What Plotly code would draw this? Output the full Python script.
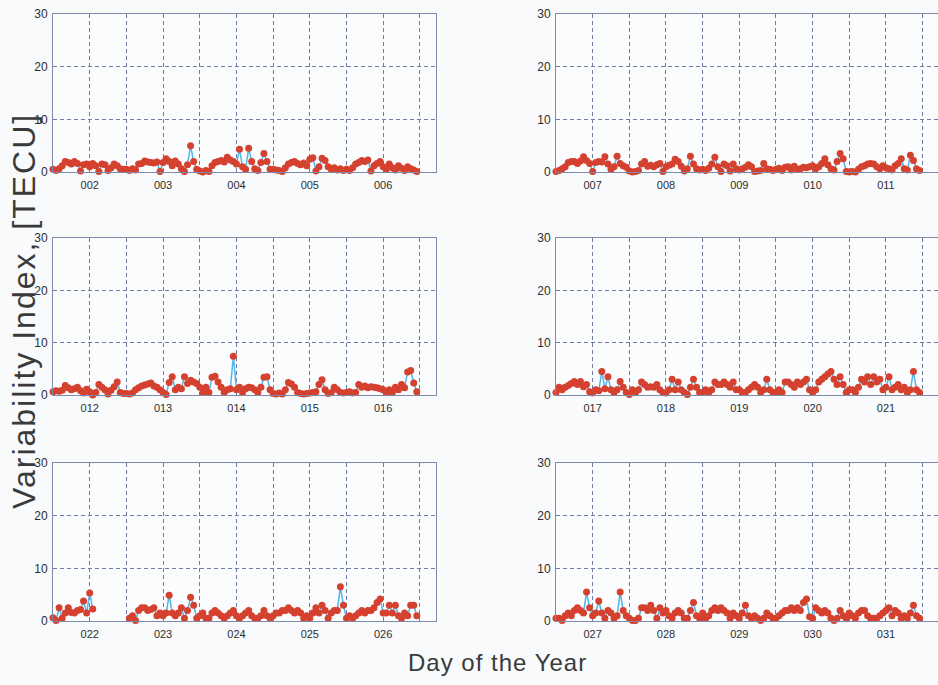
import plotly.graph_objects as go

# ---------------- data (hourly Variability Index, TECU) ----------------
days_p1 = ["002", "003", "004", "005", "006"]
days_p2 = ["007", "008", "009", "010", "011"]
days_p3 = ["012", "013", "014", "015", "016"]
days_p4 = ["017", "018", "019", "020", "021"]
days_p5 = ["022", "023", "024", "025", "026"]
days_p6 = ["027", "028", "029", "030", "031"]

vi_p1 = [0.5,0.3,0.6,1.2,2.0,1.8,1.5,2.0,1.6,0.2,1.4,1.5,1.0,1.6,1.2,0.1,1.5,1.4,0.3,0.8,1.5,1.2,0.6,0.5,
         0.5,0.3,0.6,0.4,1.5,1.6,2.1,1.9,1.8,1.7,1.9,0.1,1.8,2.5,2.0,1.2,2.1,1.5,0.6,0.1,1.4,5.0,2.0,0.5,
         0.2,0.0,0.3,0.1,1.2,1.8,2.0,2.2,1.9,2.8,2.3,2.0,1.5,4.3,1.0,0.5,4.5,2.0,0.6,0.3,1.8,3.5,2.0,0.5,
         0.5,0.4,0.3,0.1,0.8,1.5,1.8,2.0,1.6,1.4,1.7,1.2,2.4,2.7,0.2,1.0,2.6,2.2,1.0,0.5,0.8,0.4,0.6,0.3,
         0.5,0.3,0.8,1.5,1.8,2.2,2.0,2.3,0.2,1.2,1.6,2.0,1.0,0.5,1.5,0.8,0.4,1.2,0.7,0.3,1.0,0.6,0.4,0.1]

vi_p2 = [0.1,0.3,0.6,1.0,1.8,2.0,2.0,1.6,2.1,2.9,2.2,1.6,0.1,1.8,2.0,1.9,2.9,1.5,0.5,1.0,3.0,1.6,1.2,0.9,
         0.2,0.0,0.1,0.3,1.5,2.0,1.1,1.3,1.0,1.4,1.6,0.1,1.0,1.3,1.5,2.4,2.0,1.1,0.2,0.6,3.0,1.5,0.6,0.4,
         0.5,0.3,0.7,1.5,2.8,1.0,0.1,1.5,1.2,0.2,1.5,0.6,0.4,0.6,0.9,1.4,1.0,0.1,0.2,0.3,1.6,0.6,0.5,0.3,
         0.5,0.7,0.3,0.9,1.0,0.4,1.1,0.5,0.6,0.9,0.8,1.0,1.2,0.6,1.0,1.6,2.5,1.4,0.6,0.4,2.0,3.5,2.5,0.1,
         0.0,0.1,0.0,0.5,1.0,1.2,1.5,1.6,1.5,1.0,0.6,1.2,0.8,0.6,0.4,1.2,1.6,2.5,0.6,0.4,3.2,2.2,0.6,0.3]

vi_p3 = [0.6,0.8,0.7,0.9,1.8,1.4,1.0,1.2,1.5,0.8,0.4,1.1,0.6,0.0,0.5,2.0,1.5,1.0,0.2,0.9,1.6,2.5,0.5,0.3,
         0.3,0.2,0.4,1.0,1.4,1.7,1.9,2.1,2.3,1.7,1.5,1.0,0.5,0.1,2.4,3.5,1.0,1.5,1.2,3.5,2.2,2.8,2.5,2.2,
         1.5,0.5,1.5,0.5,3.4,3.6,2.5,1.5,0.5,1.0,1.2,7.4,1.0,1.5,0.5,1.2,1.5,1.4,1.0,0.5,1.5,3.4,3.5,1.0,
         0.3,0.2,0.4,0.2,1.0,2.4,2.1,1.5,0.5,0.3,0.2,0.3,0.4,0.5,0.6,2.0,2.9,1.0,0.3,0.5,1.5,1.0,0.5,0.4,
         0.5,0.6,0.4,0.5,2.0,1.5,1.7,1.4,1.6,1.5,1.4,1.2,1.0,0.5,1.0,0.5,1.5,1.0,2.0,1.4,4.4,4.7,2.3,0.6]

vi_p4 = [0.5,1.5,1.0,1.5,1.8,2.2,2.6,2.0,2.6,1.6,2.0,0.6,0.4,1.0,0.8,4.5,1.2,3.5,1.0,0.5,1.0,2.6,1.5,0.5,
         0.1,1.0,0.5,1.0,2.5,2.0,1.5,1.6,1.5,2.0,1.0,0.5,0.4,1.0,3.0,1.0,2.5,1.0,0.5,0.1,1.5,3.0,1.5,0.5,
         0.5,1.0,0.5,1.0,2.5,2.0,2.0,2.5,2.0,1.5,2.5,1.0,1.0,0.5,0.5,1.0,1.5,2.0,1.5,0.5,1.0,3.0,1.0,0.5,
         0.5,1.0,0.5,2.5,2.5,2.0,1.5,2.5,2.0,2.5,3.0,1.0,0.5,1.0,2.5,3.0,3.5,4.0,4.5,3.0,2.0,3.5,2.0,0.5,
         1.0,1.0,0.5,1.5,3.0,2.5,3.5,2.0,3.5,2.5,3.0,1.0,1.5,3.5,1.0,1.5,2.0,1.0,1.5,0.5,1.0,4.5,1.0,0.5]

vi_p5 = [0.6,0.1,2.5,0.5,1.5,2.5,1.6,1.5,2.0,2.2,3.8,1.5,5.3,2.3,None,None,None,None,None,None,None,None,None,None,
         None,0.5,1.0,0.1,2.0,2.5,2.5,2.0,2.2,2.5,1.0,1.5,1.0,1.5,4.9,1.5,1.0,1.5,2.5,0.5,2.0,4.5,3.0,0.5,
         1.0,1.5,0.5,0.5,1.5,2.0,1.5,1.0,0.5,1.0,1.5,2.0,1.0,0.5,1.0,1.5,2.0,1.0,0.5,0.5,1.0,2.0,1.0,0.5,
         1.0,1.5,1.5,2.0,2.0,2.5,2.0,1.5,2.0,1.5,0.5,1.0,0.5,1.5,2.5,1.5,3.0,2.0,0.5,1.5,2.0,2.0,6.5,3.0,
         0.5,1.0,0.5,1.0,1.5,2.0,1.5,2.0,2.0,2.5,3.5,4.2,1.5,1.5,3.0,1.5,3.0,1.0,0.5,1.5,1.0,3.0,3.0,1.0]

vi_p6 = [0.5,0.5,0.1,1.0,1.5,1.0,2.0,2.5,2.0,1.5,5.5,2.5,1.0,1.5,3.8,1.5,0.5,2.0,1.5,0.5,1.0,5.5,2.0,1.0,
         0.5,0.1,0.1,0.5,2.5,2.5,2.0,3.0,2.0,0.5,2.5,1.5,2.0,1.0,0.5,1.5,2.0,1.5,0.5,0.5,2.0,3.5,1.0,0.5,
         1.5,0.5,1.0,2.0,2.5,2.0,2.5,2.0,1.5,0.5,1.5,1.0,0.5,1.5,3.0,1.0,0.5,1.0,0.5,0.1,0.5,1.5,1.0,0.5,
         0.5,1.0,1.5,2.0,2.0,2.5,2.0,2.5,2.0,3.5,4.2,0.8,0.5,2.5,2.0,1.5,2.0,1.5,0.5,0.1,0.5,2.0,1.0,0.5,
         1.5,1.0,0.5,1.5,2.0,2.0,1.0,0.5,0.5,0.5,1.0,1.5,2.0,2.5,1.0,2.0,1.5,0.5,1.0,0.5,1.5,3.0,1.0,0.5]

y_ticks = [0, 10, 20, 30]
samples_per_day = 24

panels = [
    (days_p1, vi_p1), (days_p2, vi_p2),
    (days_p3, vi_p3), (days_p4, vi_p4),
    (days_p5, vi_p5), (days_p6, vi_p6),
]

# ---------------- layout geometry (pixels) ----------------
W, H = 938, 685
col_px = [(53, 436), (556, 940)]
col_range_end = [5.22, 5.21]
row_px = [(14, 172), (238, 395), (463, 621)]

RED = "#d5412f"
BLUE = "#52b6ea"
GRID = "#6d7ca3"
FRAME = "#7f8aab"
TXT = "#2e2e2e"
FONT = "Liberation Sans, Arial, sans-serif"

fig = go.Figure()
layout = {}
for k, (labels, vals) in enumerate(panels):
    r, c = divmod(k, 2)
    n = k + 1
    xs = [i / samples_per_day for i in range(len(vals))]
    fig.add_trace(go.Scatter(
        x=xs, y=vals, mode="lines+markers",
        line=dict(color=BLUE, width=1.5),
        marker=dict(color=RED, size=7, line=dict(width=0)),
        connectgaps=False, cliponaxis=False, showlegend=False,
        hoverinfo="skip",
        xaxis=f"x{n}", yaxis=f"y{n}",
    ))
    tickvals = [0.5 * j for j in range(1, 11)]
    ticktext = [labels[(j - 1) // 2] if j % 2 == 1 else "" for j in range(1, 11)]
    x0, x1 = col_px[c]
    y0, y1 = row_px[r]
    layout[f"xaxis{n}"] = dict(
        domain=[x0 / W, min(x1 / W, 1.0)], anchor=f"y{n}",
        range=[0, col_range_end[c]], tickvals=tickvals, ticktext=ticktext,
        showgrid=True, gridcolor=GRID, griddash="4px,3px", gridwidth=1,
        showline=True, mirror=True, linecolor=FRAME, linewidth=1,
        zeroline=False, ticks="", ticklabelstandoff=3, automargin=False,
        tickfont=dict(family=FONT, size=11, color=TXT),
    )
    layout[f"yaxis{n}"] = dict(
        domain=[1 - y1 / H, 1 - y0 / H], anchor=f"x{n}",
        range=[0, 30], tickvals=y_ticks,
        showgrid=True, gridcolor=GRID, griddash="4px,3px", gridwidth=1,
        showline=True, mirror=True, linecolor=FRAME, linewidth=1,
        zeroline=False, ticks="", ticklabelstandoff=2, automargin=False,
        tickfont=dict(family=FONT, size=12, color=TXT),
    )

fig.update_layout(
    width=W, height=H,
    margin=dict(l=0, r=0, t=0, b=0, autoexpand=False),
    paper_bgcolor="#f8fafc", plot_bgcolor="#fbfcfd",
    font=dict(family=FONT, color=TXT),
    annotations=[
        dict(text='<span style="letter-spacing:2px">Variability Index, [TECU]</span>',
             x=24 / W, y=1 - 311 / H, xref="paper", yref="paper",
             xanchor="center", yanchor="middle", textangle=-90, showarrow=False,
             font=dict(family=FONT, size=32, color="#3a3a3a")),
        dict(text='<span style="letter-spacing:1px">Day of the Year</span>',
             x=498 / W, y=1 - 662 / H, xref="paper", yref="paper",
             xanchor="center", yanchor="middle", showarrow=False,
             font=dict(family=FONT, size=24, color="#3a3a3a")),
    ],
    **layout,
)

fig.write_html(
    "out.html",
    config={"displayModeBar": False, "staticPlot": True},
    post_script="document.body.style.margin='0';document.body.style.overflow='hidden';",
)
